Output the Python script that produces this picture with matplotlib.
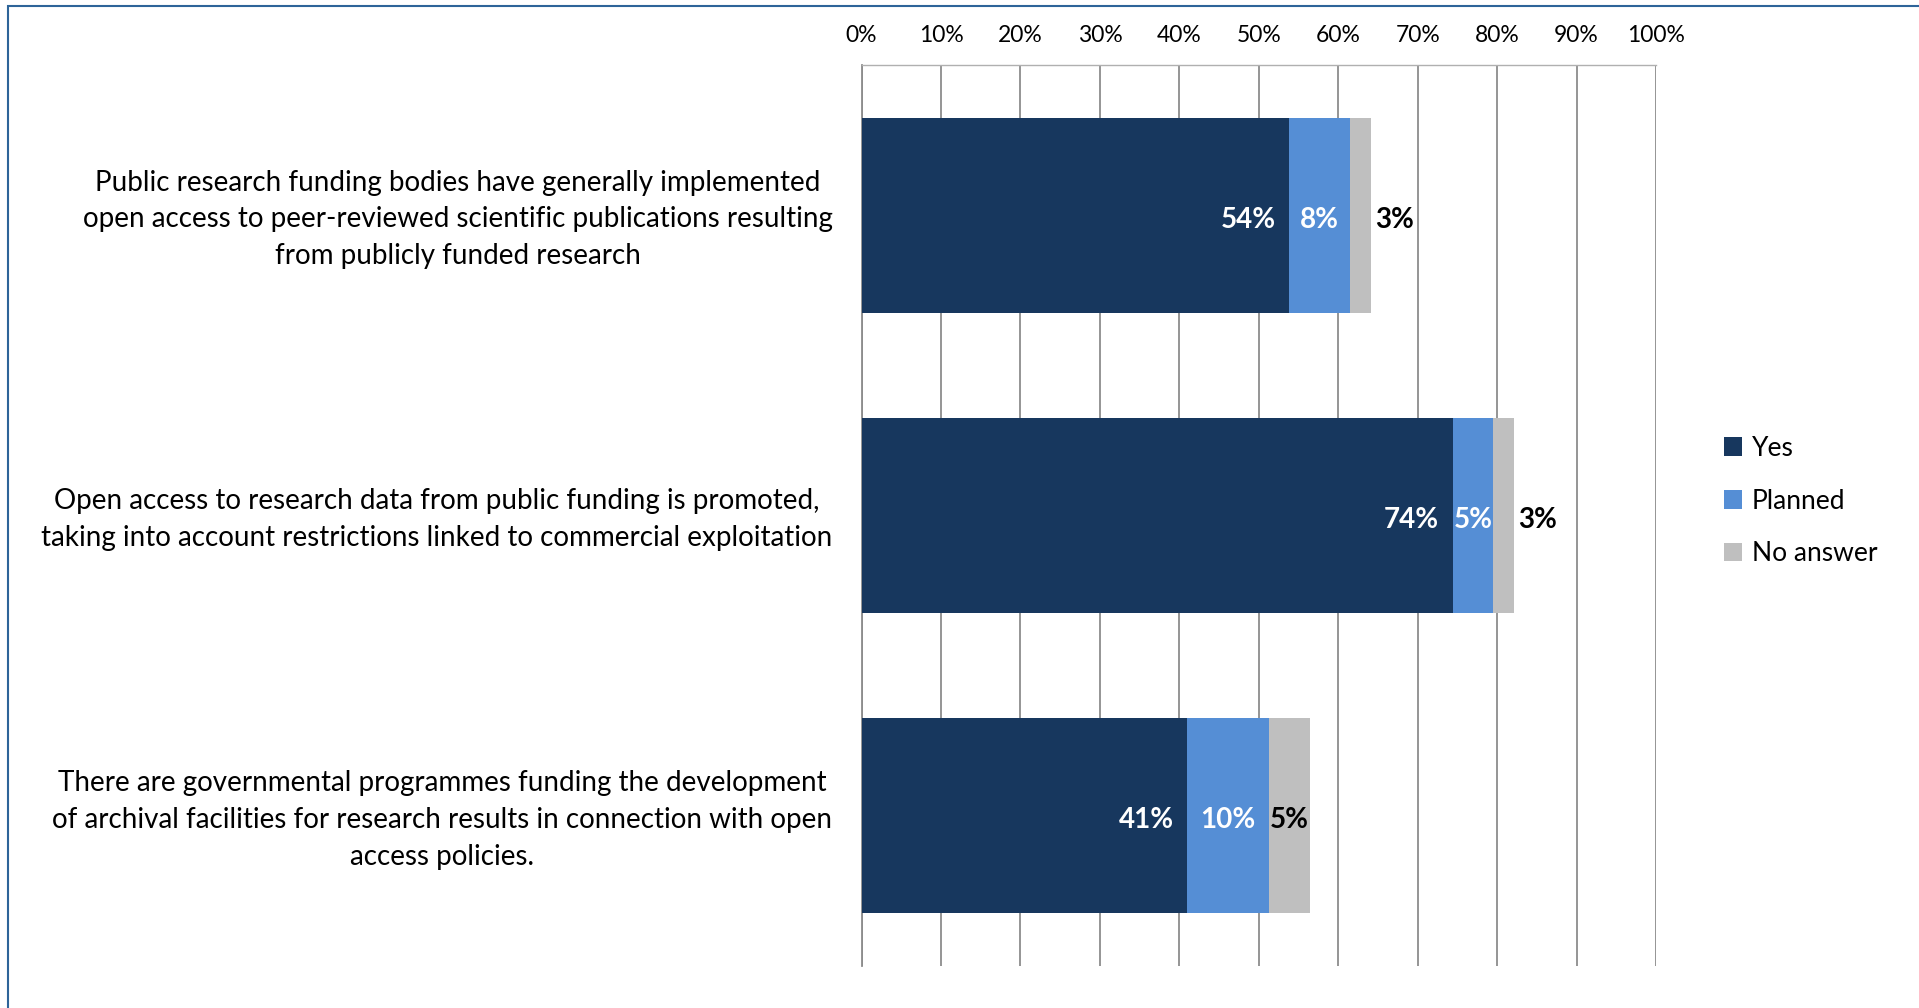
import numpy as np
import matplotlib
matplotlib.use('Agg')
import matplotlib.pyplot as plt
from matplotlib.patches import Rectangle, Patch
from matplotlib.transforms import ScaledTranslation

plt.rcParams['font.family'] = ['Lato', 'DejaVu Sans']

# survey answers, share of countries (%)
categories = [
    "Public research funding bodies have generally implemented\n"
    "open access to peer-reviewed scientific publications resulting\n"
    "from publicly funded research",
    "Open access to research data from public funding is promoted,\n"
    "taking into account restrictions linked to commercial exploitation",
    "There are governmental programmes funding the development\n"
    "of archival facilities for research results in connection with open\n"
    "access policies.",
]
series_names = ['Yes', 'Planned', 'No answer']
yes = [53.8, 74.4, 41.0]
planned = [7.7, 5.1, 10.3]
no_answer = [2.6, 2.6, 5.1]
xticks = [0, 10, 20, 30, 40, 50, 60, 70, 80, 90, 100]
xticklabels = ['0%', '10%', '20%', '30%', '40%', '50%', '60%', '70%', '80%', '90%', '100%']

colors = ['#17375E', '#558ED5', '#BFBFBF']
label_colors = ['white', 'white', 'black']

W, H = 1919, 1008
fig = plt.figure(figsize=(W/100, H/100), dpi=100)

# plot area in pixels
x0, x1, y0, y1 = 861.6, 1656, 65, 966
ax = fig.add_axes([x0/W, 1 - y1/H, (x1 - x0)/W, (y1 - y0)/H])

ypos = np.arange(len(categories))
left = np.zeros(len(categories))
dy = 0.015  # nudge labels onto the bar centre line
for vals, c, lc, name in zip([yes, planned, no_answer], colors, label_colors, series_names):
    vals = np.array(vals)
    ax.barh(ypos, vals, left=left, height=0.65, color=c, edgecolor='none', label=name, zorder=3)
    for i, v in enumerate(vals):
        txt = '%.0f%%' % v
        if name == 'Yes':
            ax.text(left[i] + v - 1.7, ypos[i] + dy, txt, ha='right', va='center',
                    color=lc, fontsize=20, fontweight='bold', zorder=4)
        elif name == 'No answer' and v < 4:
            ax.text(left[i] + v + 0.6, ypos[i] + dy, txt, ha='left', va='center',
                    color=lc, fontsize=20, fontweight='bold', zorder=4)
        else:
            ax.text(left[i] + v/2, ypos[i] + dy, txt, ha='center', va='center',
                    color=lc, fontsize=20, fontweight='bold', zorder=4)
    left = left + vals

ax.set_xlim(0, 100)
ax.set_ylim(2.5, -0.5)
ax.xaxis.tick_top()
ax.set_xticks(xticks)
ax.set_xticklabels(xticklabels, fontsize=16.5)
ax.tick_params(axis='x', length=0, pad=14)
ax.set_yticks(ypos)
ax.set_yticklabels(categories, fontsize=20, multialignment='center', linespacing=1.52)
ax.tick_params(axis='y', length=0, pad=21)
for lbl in ax.get_yticklabels():
    lbl.set_transform(lbl.get_transform() + ScaledTranslation(0, 0.037, fig.dpi_scale_trans))
ax.grid(axis='x', color='#8C8C8C', linewidth=1.3, zorder=0)
for s in ['bottom', 'right']:
    ax.spines[s].set_visible(False)
ax.spines['left'].set_color('#8C8C8C')
ax.spines['left'].set_linewidth(1.3)
ax.spines['top'].set_color('#B0B0B0')
ax.spines['top'].set_linewidth(1.0)

handles = [Patch(facecolor=c, edgecolor='none') for c in colors]
fig.legend(handles, series_names, loc='center left', bbox_to_anchor=(1713/W, 1 - 501/H),
           frameon=False, fontsize=19, handlelength=0.7, handleheight=0.7,
           handletextpad=0.37, labelspacing=1.05, borderaxespad=0)

# outer chart frame
fig.add_artist(Rectangle((7.7/W, -0.5), 2, 1.5 - 5.7/H, transform=fig.transFigure,
                         fill=False, edgecolor='#2E6499', linewidth=1.5, clip_on=False))

fig.savefig('out.png', dpi=100)
